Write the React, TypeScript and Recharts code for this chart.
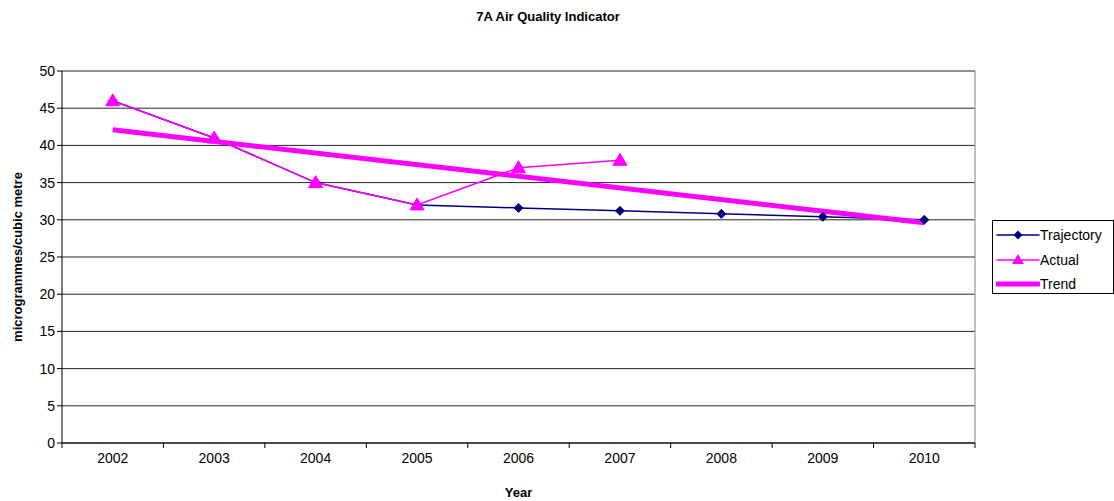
import React from 'react';
import { LineChart, Line, XAxis, YAxis, CartesianGrid, Legend, ReferenceLine, Label } from 'recharts';

const years = ['2002', '2003', '2004', '2005', '2006', '2007', '2008', '2009', '2010'];
const trajectory = [46, 41, 35, 32, 31.6, 31.2, 30.8, 30.4, 30];
const actual: (number | null)[] = [46, 41, 35, 32, 37, 38, null, null, null];
const trend: (number | null)[] = [42.1, null, null, null, null, null, null, null, 29.6];
const yTicks = [0, 5, 10, 15, 20, 25, 30, 35, 40, 45, 50];
const xBoundaries = [-0.5, 0.5, 1.5, 2.5, 3.5, 4.5, 5.5, 6.5, 7.5, 8.5];

const data = years.map((y, i) => ({
  i,
  year: y,
  Trajectory: trajectory[i],
  Actual: actual[i],
  Trend: trend[i],
}));

const FONT = '"Liberation Sans", Arial, sans-serif';
const W = 1114;
const H = 501;
const PLOT_LEFT = 62;
const PLOT_RIGHT = 975;
const LEGEND_W = 122;
const HALF_BAND = (PLOT_RIGHT - PLOT_LEFT) / 18;

const Diamond = (props: any) => {
  const { cx, cy } = props;
  if (cx == null || cy == null || props.value == null) return null;
  const s = 4.5;
  return <polygon points={`${cx},${cy - s} ${cx + s},${cy} ${cx},${cy + s} ${cx - s},${cy}`} fill="#000080" stroke="#000080" />;
};

const Triangle = (props: any) => {
  const { cx, cy } = props;
  if (cx == null || cy == null || props.value == null) return null;
  return <polygon points={`${cx},${cy - 7} ${cx + 7},${cy + 5} ${cx - 7},${cy + 5}`} fill="#FF00FF" stroke="#FF00FF" />;
};

const XTick = (props: any) => {
  const { x, y, payload, index } = props;
  const last = index === xBoundaries.length - 1;
  return (
    <g>
      <line x1={x} y1={y - 8} x2={x} y2={y - 3} stroke="#000" strokeWidth={1} />
      {!last && (
        <text x={x + HALF_BAND} y={y + 12} textAnchor="middle" fontSize={14} fontFamily={FONT} fill="#000">
          {years[Math.round(payload.value + 0.5)]}
        </text>
      )}
    </g>
  );
};

const LegendBox = () => {
  const rows = [
    { name: 'Trajectory', color: '#000080', w: 1.5, marker: 'diamond' },
    { name: 'Actual', color: '#FF00FF', w: 1.5, marker: 'triangle' },
    { name: 'Trend', color: '#FF00FF', w: 5, marker: 'none' },
  ];
  return (
    <div style={{ border: '1px solid #000', background: '#fff', width: LEGEND_W, height: 74, boxSizing: 'border-box', padding: '2px 0 0 3px' }}>
      {rows.map((r) => (
        <div key={r.name} style={{ display: 'flex', alignItems: 'center', height: 24.5 }}>
          <svg width={44} height={14}>
            <line x1={1} y1={7} x2={43} y2={7} stroke={r.color} strokeWidth={r.w} strokeLinecap="round" />
            {r.marker === 'diamond' && <polygon points="22,2.5 26.5,7 22,11.5 17.5,7" fill={r.color} />}
            {r.marker === 'triangle' && <polygon points="22,1 28,11 16,11" fill={r.color} />}
          </svg>
          <span style={{ fontFamily: FONT, fontSize: 14, color: '#000', marginLeft: 0 }}>{r.name}</span>
        </div>
      ))}
    </div>
  );
};

export default function App() {
  return (
    <div style={{ position: 'absolute', left: 0, top: 0, width: W, height: H, background: '#fff' }}>
      <div style={{ position: 'absolute', left: 0, top: 9, width: W - 18, textAlign: 'center', fontFamily: FONT, fontWeight: 'bold', fontSize: 13 }}>
        7A Air Quality Indicator
      </div>
      <LineChart width={W} height={H} data={data} margin={{ top: 71, right: W - PLOT_RIGHT - LEGEND_W, bottom: 0, left: 0 }}>
        <CartesianGrid horizontal={true} vertical={false} stroke="#000" strokeOpacity={0.85} />
        <XAxis
          dataKey="i"
          type="number"
          domain={[-0.5, 8.5]}
          ticks={xBoundaries}
          interval={0}
          tickLine={false}
          tick={<XTick />}
          axisLine={{ stroke: '#000' }}
          height={58}
        >
          <Label value="Year" position="insideBottom" offset={4} style={{ fontFamily: FONT, fontWeight: 'bold', fontSize: 13, fill: '#000' }} />
        </XAxis>
        <YAxis
          domain={[0, 50]}
          ticks={yTicks}
          interval={0}
          width={PLOT_LEFT}
          tickSize={5}
          tickLine={{ stroke: '#000' }}
          axisLine={{ stroke: '#000' }}
          tick={{ fontFamily: FONT, fontSize: 14, fill: '#000' }}
        >
          <Label value="microgrammes/cubic metre" angle={-90} position="insideLeft" offset={0} dx={17} style={{ fontFamily: FONT, fontWeight: 'bold', fontSize: 13, fill: '#000', textAnchor: 'middle' }} />
        </YAxis>
        <ReferenceLine x={8.5} stroke="#808080" />
        <Legend
          layout="vertical"
          align="right"
          verticalAlign="middle"
          content={<LegendBox />}
          wrapperStyle={{ position: 'absolute', left: 992, top: 220, width: LEGEND_W }}
        />
        <Line dataKey="Trajectory" stroke="#000080" strokeWidth={1.5} dot={<Diamond />} isAnimationActive={false} />
        <Line dataKey="Actual" stroke="#FF00FF" strokeWidth={1.5} dot={<Triangle />} isAnimationActive={false} />
        <Line dataKey="Trend" stroke="#FF00FF" strokeWidth={5} dot={false} connectNulls isAnimationActive={false} />
      </LineChart>
    </div>
  );
}
